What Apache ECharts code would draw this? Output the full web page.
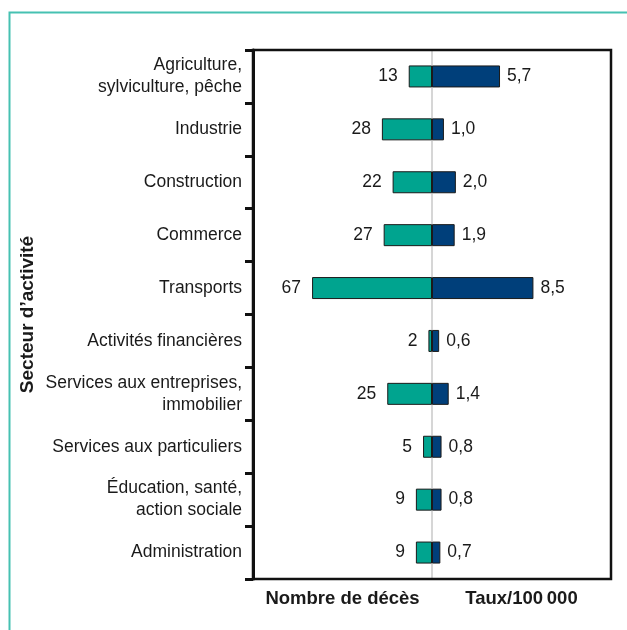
<!DOCTYPE html>
<html>
<head>
<meta charset="utf-8">
<script src="https://cdn.jsdelivr.net/npm/echarts@6/dist/echarts.min.js"></script>
<style>
html,body{margin:0;padding:0;background:#fff;}
#c{width:627px;height:630px;}
</style>
</head>
<body>
<div id="c"></div>
<script>
const categories = [
  "Agriculture,\nsylviculture, pêche",
  "Industrie",
  "Construction",
  "Commerce",
  "Transports",
  "Activités financières",
  "Services aux entreprises,\nimmobilier",
  "Services aux particuliers",
  "Éducation, santé,\naction sociale",
  "Administration"
];
const deaths = [13, 28, 22, 27, 67, 2, 25, 5, 9, 9];
const rates = [5.7, 1.0, 2.0, 1.9, 8.5, 0.6, 1.4, 0.8, 0.8, 0.7];
const leftTitle = "Nombre de décès";
const rightTitle = "Taux/100\u2009000";
const yTitle = "Secteur d\u2019activité";

const FONT = "'Liberation Sans', Arial, sans-serif";
const TXT = "#1a1a1a";
const PL = 253, PR = 611, PT = 50, PB = 579, MID = 432;

const chart = echarts.init(document.getElementById('c'), null, {renderer: 'canvas'});
chart.setOption({
  animation: false,
  backgroundColor: '#ffffff',
  grid: [
    {left: PL, top: PT, width: MID - PL, height: PB - PT},
    {left: MID, top: PT, width: PR - MID, height: PB - PT}
  ],
  xAxis: [
    {gridIndex: 0, type: 'value', min: 0, max: 100, inverse: true,
     axisLine: {show: false}, axisTick: {show: false}, axisLabel: {show: false}, splitLine: {show: false},
     name: leftTitle, nameLocation: 'middle', nameGap: 10,
     nameTextStyle: {fontFamily: FONT, fontSize: 18.5, fontWeight: 'bold', color: TXT, verticalAlign: 'top'}},
    {gridIndex: 1, type: 'value', min: 0, max: 15,
     axisLine: {show: false}, axisTick: {show: false}, axisLabel: {show: false}, splitLine: {show: false},
     name: rightTitle, nameLocation: 'middle', nameGap: 10,
     nameTextStyle: {fontFamily: FONT, fontSize: 18.5, fontWeight: 'bold', color: TXT, verticalAlign: 'top'}}
  ],
  yAxis: [
    {gridIndex: 0, type: 'category', data: categories, inverse: true, position: 'left',
     axisLine: {show: true, onZero: false, lineStyle: {color: '#111', width: 3}},
     axisTick: {show: true, alignWithLabel: false, length: 8, lineStyle: {color: '#111', width: 3}},
     axisLabel: {margin: 11, fontFamily: FONT, fontSize: 17.5, color: TXT, lineHeight: 22, align: 'right'},
     splitLine: {show: false}},
    {gridIndex: 1, type: 'category', data: categories, inverse: true, position: 'left',
     axisLine: {show: true, onZero: false, lineStyle: {color: '#c8c8c8', width: 1.5}},
     axisTick: {show: false}, axisLabel: {show: false}, splitLine: {show: false}}
  ],
  series: [
    {type: 'bar', xAxisIndex: 0, yAxisIndex: 0, data: deaths, barWidth: 22,
     itemStyle: {color: '#00A48F', borderColor: '#1a1a1a', borderWidth: 1},
     label: {show: true, position: 'left', distance: 11, fontFamily: FONT, fontSize: 17.5, color: TXT},
     z: 2},
    {type: 'bar', xAxisIndex: 1, yAxisIndex: 1, data: rates, barWidth: 22,
     itemStyle: {color: '#003F7A', borderColor: '#1a1a1a', borderWidth: 1},
     label: {show: true, position: 'right', distance: 7, fontFamily: FONT, fontSize: 17.5, color: TXT,
             formatter: p => p.value.toFixed(1).replace('.', ',')},
     z: 2}
  ],
  graphic: [
    {type: 'rect', silent: true, z: 10,
     shape: {x: 9.5, y: 12.5, width: 700, height: 700},
     style: {fill: 'none', stroke: '#46C1B2', lineWidth: 2}},
    {type: 'rect', silent: true, z: 10,
     shape: {x: PL, y: PT, width: PR - PL, height: PB - PT},
     style: {fill: 'none', stroke: '#111', lineWidth: 2.5}},
    {type: 'text', silent: true, z: 10,
     x: 28, y: (PT + PB) / 2, rotation: Math.PI / 2,
     style: {text: yTitle, fontFamily: FONT, fontSize: 19, fontWeight: 'bold', fill: TXT,
             align: 'center', verticalAlign: 'middle'}}
  ]
});
</script>
</body>
</html>
